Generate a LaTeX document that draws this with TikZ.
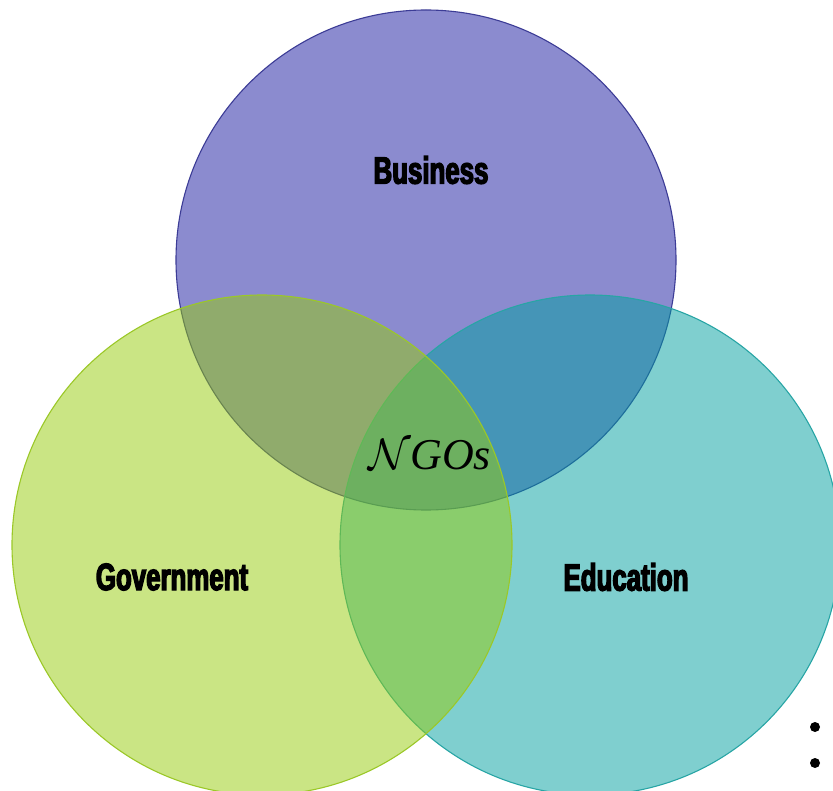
\RequirePackage{fix-cm}
\documentclass[tikz,border=0pt]{standalone}
\usepackage{fontspec}
\newfontfamily\labelfont[FakeStretch=0.68,FakeBold=3.5]{Liberation Sans Bold}
\newfontfamily\ngofont{Liberation Serif}
\definecolor{bizfill}{RGB}{25,25,161}
\definecolor{bizline}{RGB}{60,60,150}
\definecolor{govfill}{RGB}{150,204,10}
\definecolor{govline}{RGB}{155,200,40}
\definecolor{edufill}{RGB}{0,160,160}
\definecolor{eduline}{RGB}{40,165,165}
\tikzset{
  venn/.style={circle, minimum size=500pt, inner sep=0pt, fill opacity=0.5, line width=1.1pt},
  lbl/.style={font=\labelfont\fontsize{38}{40}\selectfont, text=black, inner sep=0pt},
  dotmark/.style={circle, fill=black, minimum size=10pt, inner sep=0pt}
}
\begin{document}
\begin{tikzpicture}[x=1pt,y=-1pt]
\useasboundingbox[fill=white] (0,0) rectangle (833,791);
\node[venn, fill=bizfill, draw=bizline] (biz) at (426,260) {};
\node[venn, fill=edufill, draw=eduline] (edu) at (590,545) {};
\node[venn, fill=govfill, draw=govline] (gov) at (262,545) {};
\node[lbl] (bizlbl) at (431,170) {Business};
\node[lbl] (govlbl) at (172,577) {Government};
\node[lbl] (edulbl) at (626,577) {Education};
\node[inner sep=0pt, font=\fontsize{44}{48}\selectfont] (ngo) at (430,455) {$\mathcal{N}$\kern-1pt{\ngofont\itshape GOs}};
\node[dotmark] (d1) at (815,727) {};
\node[dotmark] (d2) at (815,763) {};
\end{tikzpicture}
\end{document}
